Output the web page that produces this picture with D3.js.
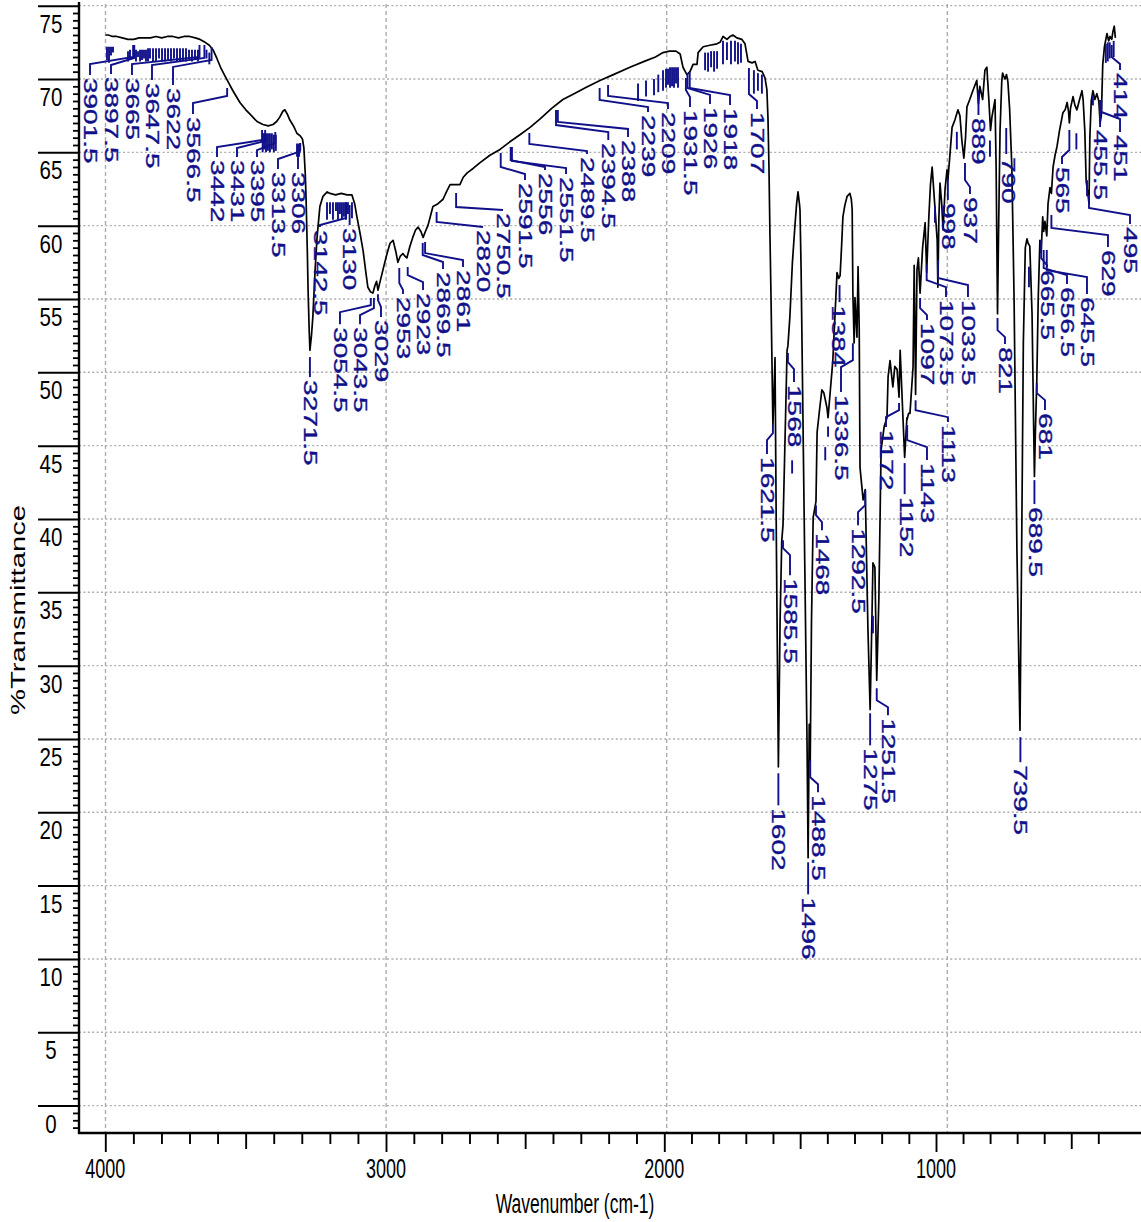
<!DOCTYPE html>
<html>
<head>
<meta charset="utf-8">
<script src="https://cdn.jsdelivr.net/npm/d3@7"></script>
<style>
  body { margin: 0; background: #fff; }
  svg { display: block; }
</style>
</head>
<body>
<div id="chart"></div>
<script>
// spectrum: [wavenumber cm-1, %T]
const spectrum = [
  [4000,73.0],[3990,73.0],[3975,72.9],[3960,72.9],[3940,72.8],[3920,72.7],[3900,72.7],[3880,72.8],
  [3860,72.8],[3840,72.8],[3820,72.9],[3800,72.8],[3780,72.9],[3760,72.9],[3740,72.8],[3720,72.9],
  [3700,72.9],[3680,72.8],[3663,72.7],[3645,72.5],[3630,72.3],[3617,72.0],[3603,71.4],[3590,70.8],
  [3574,70.2],[3560,69.7],[3546,69.2],[3521,68.4],[3500,67.9],[3485,67.6],[3460,67.1],[3439,66.9],
  [3420,66.8],[3403,66.9],[3390,67.1],[3379,67.4],[3368,67.8],[3361,67.9],[3352,67.6],[3343,67.2],
  [3330,66.8],[3318,66.3],[3305,66.1],[3298,65.9],[3293,65.3],[3288,63.5],[3285,61.7],[3281,58.5],
  [3278,55.6],[3274,52.8],[3271.5,51.5],[3266,52.5],[3261,53.8],[3253,57.0],[3246,59.2],[3236,61.3],
  [3225,62.0],[3210,62.3],[3200,62.2],[3180,62.1],[3160,62.2],[3139,62.1],[3122,62.1],[3112,61.5],
  [3104,60.6],[3093,59.5],[3082,58.3],[3072,56.8],[3065,55.8],[3056,55.5],[3047,55.4],[3040,55.9],
  [3034,56.2],[3029,55.6],[3020,56.3],[3011,57.0],[2998,58.0],[2986,58.8],[2975,59.0],[2965,58.2],
  [2958,57.5],[2950,57.9],[2940,58.1],[2932,57.9],[2926,57.8],[2915,58.6],[2905,59.2],[2895,59.7],
  [2886,59.9],[2876,59.6],[2868,59.2],[2858,59.7],[2851,60.0],[2840,60.8],[2833,61.3],[2815,61.5],
  [2797,61.8],[2785,62.3],[2772,62.8],[2755,62.8],[2737,62.8],[2725,63.3],[2711,63.6],[2690,63.9],
  [2665,64.3],[2630,64.8],[2594,65.2],[2560,65.7],[2523,66.2],[2487,66.7],[2450,67.3],[2410,68.0],
  [2370,68.6],[2330,69.0],[2290,69.4],[2238,69.9],[2190,70.3],[2131,70.8],[2080,71.2],[2040,71.5],
  [2013,71.8],[1990,71.9],[1967,71.9],[1952,71.7],[1942,70.8],[1928,70.3],[1917,70.5],[1906,71.0],
  [1892,71.0],[1888,71.8],[1870,72.2],[1846,72.3],[1821,72.4],[1810,72.5],[1799,72.9],[1785,72.7],
  [1774,72.9],[1764,73.0],[1750,72.8],[1732,72.7],[1721,72.4],[1710,71.2],[1696,71.1],[1685,71.2],
  [1675,70.6],[1660,70.5],[1650,70.1],[1643,69.3],[1639,67.3],[1635.5,63.9],[1632,59.4],[1628,54.8],
  [1621.5,46.4],[1617,49.0],[1614,51.0],[1609,38.0],[1602,23.1],[1596,33.0],[1590,38.5],[1585.5,39.6],
  [1580,44.0],[1574,49.0],[1571,51.5],[1568,51.8],[1561,53.8],[1552,57.5],[1543,60.0],[1537,61.5],
  [1532,62.3],[1527,61.5],[1525,61.1],[1521,57.0],[1517,50.8],[1508,37.0],[1500,25.0],[1496,16.9],
  [1492,26.0],[1488.5,23.5],[1484,33.0],[1478,40.1],[1468,41.2],[1464,45.9],[1455,47.5],[1447,48.8],
  [1440,48.6],[1429,47.6],[1425,46.9],[1418,48.5],[1408,50.8],[1400,54.0],[1393,56.8],[1387,56.4],
  [1382,56.6],[1377,58.5],[1372,60.6],[1365,61.4],[1357,62.0],[1347,62.2],[1342,61.8],[1339,61.1],
  [1336.5,55.4],[1332,52.0],[1329,55.1],[1322,52.4],[1318,57.2],[1314,53.1],[1311,43.5],[1300,41.3],
  [1292.5,42.0],[1286,35.6],[1283,32.6],[1275,27.0],[1268,33.8],[1265,37.0],[1258,36.7],[1251.5,29.0],
  [1244,34.5],[1236,44.7],[1225,46.3],[1215,46.9],[1211,49.7],[1204,50.8],[1194,49.0],[1187,50.4],
  [1179,50.2],[1172,48.3],[1168,51.5],[1158,46.9],[1152,44.2],[1144,46.9],[1143,46.8],[1138,47.2],
  [1133,47.2],[1122,50.4],[1118,57.3],[1113,48.5],[1108,57.0],[1103,57.8],[1097,55.4],[1088,58.5],
  [1079,60.2],[1073.5,56.8],[1066,60.5],[1060,62.8],[1054,64.0],[1045,61.5],[1036,59.0],[1033.5,55.8],
  [1030,60.5],[1026,62.9],[1020,61.5],[1015,59.7],[1008,62.5],[1001,63.8],[998,63.1],[992,64.5],
  [983,66.7],[973,67.2],[962,67.9],[955,67.5],[948,65.8],[941,64.6],[935,66.0],[930,68.1],
  [920,68.6],[909,69.2],[895,69.9],[889,68.3],[884,69.5],[874,68.6],[866,70.6],[859,70.8],
  [852,68.6],[846,66.5],[841,67.4],[830,68.6],[826,64.0],[821,54.0],[817,60.0],[812,66.5],
  [806,69.8],[803,70.4],[799,70.2],[794,70.0],[789,70.3],[784,69.8],[778,68.0],[770,64.0],
  [762,55.0],[752,38.0],[741,25.6],[735,38.0],[729,52.0],[722,58.5],[716,59.1],[712,58.8],
  [706,58.6],[698,54.0],[692,46.0],[689.5,42.9],[686,46.0],[681,49.5],[676,55.0],[670,59.0],
  [665.5,58.2],[660,60.6],[656.5,59.6],[652,60.3],[645.5,59.3],[641,61.5],[634,62.6],[629,62.2],
  [623,64.0],[616,64.8],[609,65.4],[600,66.5],[588,67.7],[580,67.9],[573,68.4],[568,67.8],
  [565,67.0],[561,68.0],[552,68.8],[545,68.2],[538,67.9],[530,68.5],[520,69.2],[516,68.6],
  [510,66.5],[505,63.0],[499,62.2],[495,61.5],[492,66.0],[487,68.5],[481,69.2],[474,68.6],
  [467,69.0],[460,68.5],[455.5,67.0],[451,67.5],[446,71.0],[440,72.2],[431,73.1],[425,72.6],
  [420,72.9],[414,72.7],[410,73.2],[405,73.6],[401,72.8]
];

const peakLabels = [
  "3901.5","3897.5","3665","3647.5","3622","3566.5","3442","3431","3395","3313.5","3306",
  "3271.5","3142.5","3130","3054.5","3043.5","3029","2953","2923","2869.5","2861","2820",
  "2750.5","2591.5","2556","2551.5","2489.5","2394.5","2388","2239","2209","1931.5","1926",
  "1918","1707","1621.5","1602","1585.5","1568","1496","1488.5","1468","1384","1336.5",
  "1292.5","1275","1251.5","1172","1152","1143","1113","1097","1073.5","1033.5","998","937",
  "889","790","821","739.5","689.5","681","665.5","656.5","645.5","629","565","495","455.5",
  "451","414"
];

// leader layout per label: [marker top %T, knee %T, text column cm-1, text top %T]
const peakLayout = [
  [72.32,71.50,4055.2,70.07],[72.32,71.43,3980.4,70.14],[72.32,71.50,3905.6,70.07],[72.32,71.43,3834.3,69.73],
  [72.18,71.30,3759.4,69.39],[69.39,68.84,3688.2,67.41],[66.52,65.84,3602.6,64.47],[66.52,65.77,3531.4,64.47],
  [66.38,65.63,3460.1,64.47],[65.50,65.02,3385.3,63.66],[65.63,65.16,3314.0,63.66],[51.04,50.15,3271.3,49.47],
  [61.61,60.52,3235.7,59.70],[61.41,60.72,3132.3,59.84],[55.06,54.58,3164.4,53.08],[55.06,54.38,3093.0,53.08],
  [55.33,54.93,3018.2,53.56],[57.11,56.09,2939.8,55.13],[57.18,56.63,2868.5,55.40],[58.81,58.00,2797.2,56.84],
  [58.88,58.13,2725.9,56.97],[60.93,60.25,2654.6,59.70],[62.22,61.27,2583.4,60.86],[64.95,64.00,2505.0,62.91],
  [65.36,64.47,2433.7,63.59],[65.36,64.41,2358.8,63.32],[66.32,65.57,2284.0,64.68],[67.89,66.86,2208.2,65.63],
  [67.89,67.07,2137.9,65.84],[69.39,68.57,2066.6,67.54],[69.59,68.84,1995.4,67.75],[70.07,69.25,1917.0,67.89],
  [70.41,69.39,1845.7,68.09],[70.48,69.39,1774.4,68.02],[70.75,68.98,1678.2,67.75],[46.40,45.85,1642.6,44.22],
  [22.66,21.50,1603.4,20.27],[38.55,38.01,1560.6,35.96],[51.31,50.70,1546.4,49.13],[16.59,15.36,1496.5,14.20],
  [23.55,22.39,1460.8,21.16],[40.94,40.26,1446.6,39.03],[55.95,55.27,1389.5,54.58],[51.99,50.83,1378.8,48.45],
  [41.97,40.94,1318.2,39.37],[26.75,25.59,1275.5,24.36],[28.46,27.64,1211.4,26.41],[47.90,47.42,1218.5,46.06],
  [43.81,42.78,1147.2,41.49],[46.40,45.38,1072.4,43.81],[48.10,47.42,997.6,46.40],[55.06,54.38,1072.4,53.36],
  [57.31,56.29,1004.7,54.93],[57.65,56.43,926.3,54.93],[63.25,62.29,997.6,61.54],[64.27,63.11,919.2,61.95],
  [69.25,67.89,890.6,67.34],[66.66,65.84,783.7,64.68],[53.70,52.88,794.4,51.72],[25.12,23.89,741.0,23.21],
  [42.65,41.62,687.5,40.81],[49.26,48.58,651.9,47.22],[59.02,57.79,644.8,56.97],[58.34,57.11,573.5,55.81],
  [58.34,56.97,502.2,55.13],[60.72,59.84,427.4,58.34],[66.52,65.16,591.3,64.00],[62.09,61.20,348.9,59.90],
  [68.57,67.75,455.8,66.52],[68.57,67.75,384.5,66.18],[72.32,71.50,384.5,70.41]
];

// peak markers drawn without a number: [cm-1, top %T, bottom %T]
const extraMarkers = [
  [3994.7,72.2,71.3],[3987.5,72.2,71.1],[3980.4,72.2,71.6],[3973.3,72.2,71.8],
  [3919.8,71.9,71.2],[3912.7,72.0,71.3],[3891.3,72.0,71.2],[3884.2,71.9,71.5],[3877.0,72.0,71.2],
  [3869.9,72.0,71.3],[3862.8,72.0,71.4],[3855.7,72.0,71.2],[3848.5,72.1,71.2],[3841.4,72.1,71.4],
  [3830.7,72.1,71.2],[3820.0,72.1,71.2],[3809.3,72.1,71.4],[3798.6,72.1,71.2],[3787.9,72.1,71.2],
  [3777.2,72.1,71.3],[3766.6,72.1,71.2],[3755.9,72.1,71.4],[3745.2,72.1,71.2],[3734.5,72.1,71.2],
  [3723.8,72.1,71.3],[3713.1,72.1,71.2],[3702.4,72.0,71.4],[3691.8,72.0,71.2],[3681.1,72.0,71.3],
  [3670.4,72.0,71.2],[3640.0,72.0,71.4],[3630.0,71.8,71.0],
  [3440,66.3,65.0],[3435,66.3,65.2],[3428,66.3,65.0],[3421,66.3,65.1],[3414,66.3,65.0],[3407,66.3,65.2],
  [3400,66.2,65.0],[3393,66.2,65.1],[3317.5,65.6,64.7],[3310.4,65.6,64.7],
  [3210.6,61.6,60.4],[3200.0,61.6,60.8],[3189.3,61.6,60.4],[3178.6,61.6,61.0],[3171.5,61.6,60.4],
  [3164.4,61.6,60.8],[3157.3,61.6,60.4],[3150.1,61.6,60.6],[3143.0,61.6,60.4],[3135.9,61.6,60.8],
  [3121.6,61.6,60.5],
  [2102.2,69.7,68.5],[2073.7,69.9,68.8],[2045.2,70.0,68.9],[2030.0,70.3,69.1],[2013.1,70.6,69.2],
  [2002.4,70.7,69.4],[1995.3,70.7,69.6],[1988.2,70.8,69.4],[1981.0,70.8,69.5],[1973.9,70.8,69.4],
  [1966.8,70.8,69.7],[1959.7,70.8,69.4],
  [1863.3,71.8,70.6],[1852.6,71.8,70.5],[1841.9,71.9,70.8],[1831.2,71.9,70.5],[1820.5,71.9,70.7],
  [1799.4,72.6,71.0],[1785.2,72.5,71.3],[1770.9,72.6,71.0],[1756.6,72.6,71.2],[1745.9,72.5,71.0],
  [1735.3,72.4,71.1],
  [1689.2,70.6,69.0],[1674.9,70.4,69.2],[1660.7,70.3,69.0],
  [1553,44.0,43.1],[1435,44.9,44.0],[1425,46.3,45.6],[1265,33.4,32.2],[1044,61.3,60.2],
  [966,66.4,65.2],[848,65.8,64.7],[709,57.2,55.8],[540,66.3,65.2],[502,63.1,62.0],[481,68.9,68.2],
  [435,72.4,71.1],[428,72.5,71.2],[421,72.5,71.4],[407,72.6,71.5]
];

const yTickValues = d3.range(0, 76, 5);
const yMinorValues = d3.range(-3, 151).map(d => d / 2).filter(d => d % 5 !== 0);
const xTickValues = [4000, 3000, 2000, 1000];
const xMidValues = [3500, 2500, 1500, 500];
const xMinorValues = d3.range(400, 4001, 100).filter(d => d % 500 !== 0);

const svgWidth = 1141, svgHeight = 1222;
const plotLeft = 79, plotTop = 4, plotBottom = 1133;
const ink = "#10108a";
const font = "'Liberation Sans', Arial, sans-serif";

const svg = d3.select("#chart").append("svg")
  .attr("width", svgWidth)
  .attr("height", svgHeight);

const x = d3.scaleLinear().domain([4000, 1000]).range([105.5, 947.3]);
// the tick strip under the plot is squeezed a little in the source picture
const xStrip = d3.scaleLinear()
  .domain([4000, 3000, 2000, 1000, 400])
  .range([105.3, 386, 664.3, 936, 1098.3]);
const y = d3.scaleLinear().domain([0, 70]).range([1105.6, 79]);

// grid
const grid = svg.append("g").attr("stroke", "#adadad").attr("stroke-width", 1.4);
grid.selectAll("line.h").data(yTickValues).join("line")
  .attr("class", "h")
  .attr("x1", plotLeft).attr("x2", svgWidth)
  .attr("y1", d => y(d)).attr("y2", d => y(d))
  .attr("stroke-dasharray", "2,2.4");
grid.selectAll("line.v").data(xTickValues).join("line")
  .attr("class", "v")
  .attr("x1", d => x(d)).attr("x2", d => x(d))
  .attr("y1", plotTop).attr("y2", plotBottom)
  .attr("stroke-dasharray", "4,3");

// y axis
const yAxisG = svg.append("g").attr("transform", "translate(" + plotLeft + ",0)");
yAxisG.append("g")
  .call(d3.axisLeft(y).tickValues(yTickValues).tickSize(41).tickFormat(""))
  .call(g => g.select(".domain").remove())
  .selectAll("line").attr("stroke-width", 2);
yAxisG.append("g")
  .call(d3.axisLeft(y).tickValues(yMinorValues).tickSize(6).tickFormat(""))
  .call(g => g.select(".domain").remove())
  .selectAll("line").attr("stroke-width", 1.8);
svg.append("line").attr("x1", plotLeft).attr("x2", plotLeft)
  .attr("y1", plotTop - 2).attr("y2", plotBottom + 1)
  .attr("stroke", "#000").attr("stroke-width", 2.4);

svg.append("g").selectAll("text").data(yTickValues).join("text")
  .attr("transform", d => "translate(51," + (y(d) + 27) + ") scale(1,1.22)")
  .attr("text-anchor", "middle")
  .attr("font-family", font).attr("font-size", 20.5)
  .text(d => d);

// x axis
const xAxisG = svg.append("g").attr("transform", "translate(0," + plotBottom + ")");
[[xTickValues, 19], [xMidValues, 16], [xMinorValues, 11]].forEach(([vals, size]) => {
  xAxisG.append("g")
    .call(d3.axisBottom(xStrip).tickValues(vals).tickSize(size).tickFormat(""))
    .call(g => g.select(".domain").remove())
    .selectAll("line").attr("stroke-width", 1.9);
});
svg.append("line").attr("x1", plotLeft - 1).attr("x2", svgWidth)
  .attr("y1", plotBottom).attr("y2", plotBottom)
  .attr("stroke", "#000").attr("stroke-width", 2.4);

svg.append("g").selectAll("text").data(xTickValues).join("text")
  .attr("transform", d => "translate(" + xStrip(d) + ",1178) scale(1,1.55)")
  .attr("text-anchor", "middle")
  .attr("font-family", font).attr("font-size", 18)
  .text(d => d);

// axis titles
svg.append("text")
  .attr("transform", "translate(575,1213) scale(1,1.55)")
  .attr("text-anchor", "middle")
  .attr("font-family", font).attr("font-size", 17.5)
  .text("Wavenumber (cm-1)");
svg.append("text")
  .attr("transform", "translate(18,610) scale(1,1.5) rotate(-90)")
  .attr("text-anchor", "middle").attr("dy", "0.35em")
  .attr("font-family", font).attr("font-size", 19.5)
  .text("%Transmittance");

// spectrum
const line = d3.line()
  .x(d => x(d[0]))
  .y(d => y(d[1]));
svg.append("path")
  .datum(spectrum)
  .attr("fill", "none")
  .attr("stroke", "#000")
  .attr("stroke-width", 1.7)
  .attr("stroke-linejoin", "round")
  .attr("d", line);

// peak markers and labels
const marks = svg.append("g").attr("stroke", ink).attr("stroke-width", 1.9).attr("fill", "none");
marks.selectAll("line").data(extraMarkers).join("line")
  .attr("x1", d => x(d[0])).attr("x2", d => x(d[0]))
  .attr("y1", d => y(d[1])).attr("y2", d => y(d[2]));

const peaks = peakLabels.map((t, i) => ({
  text: t,
  w: parseFloat(t),
  mt: peakLayout[i][0], kt: peakLayout[i][1], lw: peakLayout[i][2], lt: peakLayout[i][3]
}));

marks.selectAll("path").data(peaks).join("path")
  .attr("d", d => {
    const px = x(d.w), tx = x(d.lw), end = y(d.lt) - 3;
    if (Math.abs(px - tx) < 2) return "M" + px + "," + y(d.mt) + "V" + end;
    const ky = y(d.kt), dy = Math.min(ky + 7, end);
    return "M" + px + "," + y(d.mt) + "V" + ky + "L" + tx + "," + dy + "V" + end;
  });

svg.append("g").selectAll("text").data(peaks).join("text")
  .attr("transform", d => "translate(" + x(d.lw) + "," + y(d.lt) + ") scale(1,1.52) rotate(90)")
  .attr("dy", "0.35em")
  .attr("fill", ink)
  .attr("stroke", ink).attr("stroke-width", 0.35)
  .attr("font-family", font).attr("font-size", 18.4)
  .text(d => d.text);
</script>
</body>
</html>
